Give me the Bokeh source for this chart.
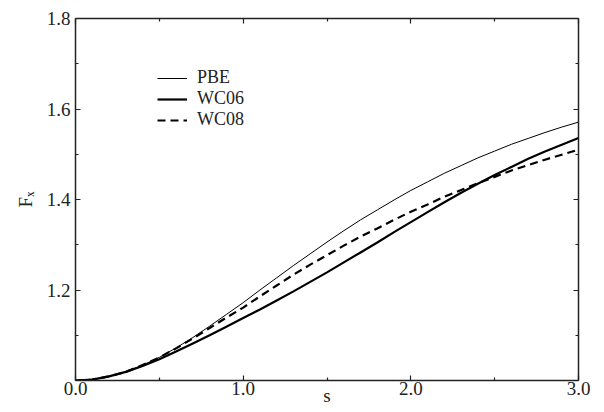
from bokeh.plotting import figure
from bokeh.models import (Range1d, FixedTicker, PrintfTickFormatter, LinearAxis,
                          CustomJSTickFormatter, Legend, LegendItem)
from bokeh.embed import file_html
from bokeh.resources import INLINE

# Data
s = [0.0, 0.1, 0.2, 0.3, 0.4, 0.5, 0.6, 0.7, 0.8, 0.9, 1.0,
     1.1, 1.2, 1.3, 1.4, 1.5, 1.6, 1.7, 1.8, 1.9, 2.0,
     2.1, 2.2, 2.3, 2.4, 2.5, 2.6, 2.7, 2.8, 2.9, 3.0]
pbe = [1.000, 1.002, 1.009, 1.019, 1.034, 1.051, 1.072, 1.095, 1.120, 1.146, 1.172,
       1.200, 1.227, 1.254, 1.280, 1.306, 1.331, 1.355, 1.377, 1.399, 1.420,
       1.439, 1.458, 1.475, 1.492, 1.507, 1.522, 1.535, 1.548, 1.560, 1.571]
wc06 = [1.000, 1.002, 1.009, 1.019, 1.032, 1.047, 1.064, 1.082, 1.100, 1.119, 1.138,
        1.157, 1.177, 1.197, 1.218, 1.239, 1.261, 1.283, 1.305, 1.328, 1.350,
        1.372, 1.394, 1.415, 1.435, 1.454, 1.472, 1.490, 1.506, 1.521, 1.536]
wc08 = [1.000, 1.002, 1.009, 1.019, 1.034, 1.051, 1.071, 1.093, 1.116, 1.139, 1.161,
        1.186, 1.210, 1.234, 1.256, 1.277, 1.298, 1.318, 1.336, 1.355, 1.373,
        1.389, 1.406, 1.421, 1.436, 1.450, 1.464, 1.476, 1.488, 1.499, 1.510]

x_ticks = [0.0, 1.0, 2.0, 3.0]
x_minor = [0.5, 1.5, 2.5]
y_ticks = [1.2, 1.4, 1.6, 1.8]
y_minor = [1.1, 1.3, 1.5, 1.7]

FONT = "Liberation Serif"
INK = "#222222"

p = figure(width=598, height=412, output_backend="svg", toolbar_location=None,
           x_range=Range1d(0, 3), y_range=Range1d(1.0, 1.8),
           min_border_left=75, min_border_right=20, min_border_top=18, min_border_bottom=32)
p.outline_line_color = None
p.xgrid.visible = False
p.ygrid.visible = False
p.xaxis.visible = False
p.yaxis.visible = False

def style(ax, ticks, minor, labels=True):
    ax.ticker = FixedTicker(ticks=ticks, minor_ticks=minor)
    ax.axis_line_color = INK
    ax.axis_line_width = 1.5
    ax.major_tick_line_color = INK
    ax.minor_tick_line_color = INK
    ax.major_tick_line_width = 1.2
    ax.minor_tick_line_width = 1.2
    ax.major_tick_in = 5
    ax.major_tick_out = 0
    ax.minor_tick_in = 3
    ax.minor_tick_out = 0
    if labels:
        ax.formatter = PrintfTickFormatter(format="%.1f")
        ax.major_label_text_font = FONT
        ax.major_label_text_font_size = "19px"
        ax.major_label_text_color = INK
        ax.major_label_standoff = 3
    else:
        ax.formatter = CustomJSTickFormatter(code="return ''")

bottom = LinearAxis(axis_label="s")
style(bottom, x_ticks, x_minor)
bottom.major_label_standoff = 1
bottom.axis_label_text_font = FONT
bottom.axis_label_text_font_style = "normal"
bottom.axis_label_text_font_size = "19px"
bottom.axis_label_text_color = INK
bottom.axis_label_standoff = -13
p.add_layout(bottom, "below")

left = LinearAxis(axis_label="Fₓ")
style(left, y_ticks, y_minor)
left.major_label_standoff = 5
left.axis_label_text_font = FONT
left.axis_label_text_font_style = "normal"
left.axis_label_text_font_size = "19px"
left.axis_label_text_color = INK
left.axis_label_standoff = 8
p.add_layout(left, "left")

top = LinearAxis()
style(top, x_ticks, x_minor, labels=False)
p.add_layout(top, "above")

right = LinearAxis()
style(right, y_ticks, y_minor, labels=False)
p.add_layout(right, "right")

r_pbe = p.line(s, pbe, line_color="black", line_width=1)
r_wc06 = p.line(s, wc06, line_color="black", line_width=2.2)
r_wc08 = p.line(s, wc08, line_color="black", line_width=2.2, line_dash="8 5")

legend = Legend(items=[LegendItem(label="PBE", renderers=[r_pbe]),
                       LegendItem(label="WC06", renderers=[r_wc06]),
                       LegendItem(label="WC08", renderers=[r_wc08])],
                location=(82, 250))
legend.label_text_font = FONT
legend.label_text_font_size = "18px"
legend.label_text_color = INK
legend.border_line_color = None
legend.background_fill_alpha = 0
legend.glyph_width = 30
legend.glyph_height = 20
legend.label_height = 20
legend.spacing = 0
legend.padding = 0
legend.margin = 0
legend.label_standoff = 10
p.add_layout(legend)

open("out.html", "w").write(file_html(p, INLINE))
